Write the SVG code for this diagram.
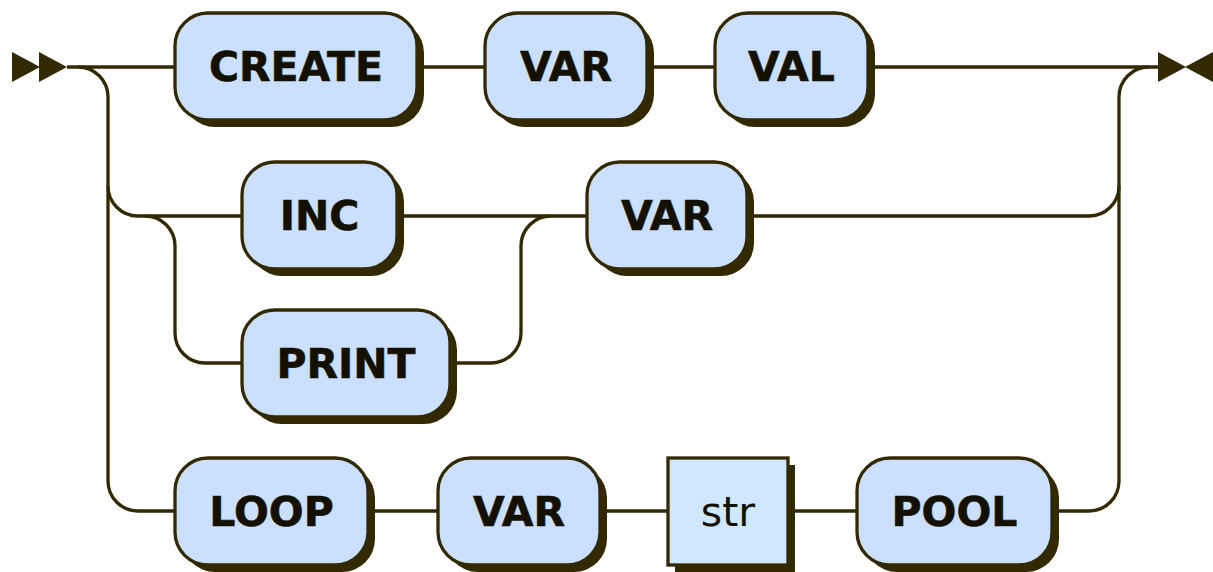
<svg xmlns="http://www.w3.org/2000/svg" width="1213" height="572" viewBox="0 0 1213 572">
  <style>
    .line { fill: none; stroke: #332900; stroke-width: 3.3; }
    .shadow { fill: #332900; }
    .term { fill: #CBE0FF; stroke: #332900; stroke-width: 3.3; }
    .nonterm { fill: #D0E8FF; stroke: #332900; stroke-width: 3.3; }
    .arrow { fill: #332900; }
    text { font-family: "DejaVu Sans", Verdana, sans-serif; font-size: 41px; fill: #141000; text-anchor: middle; }
    text.t { font-weight: bold; stroke: #141000; stroke-width: 0.6; }
  </style>

  <!-- connectors -->
  <g id="connectors">
    <polygon class="arrow" points="12,52 12,82 40,67"/>
    <polygon class="arrow" points="39,52 39,82 67,67"/>
    <polygon class="arrow" points="1158,52 1158,82 1186,67"/>
    <polygon class="arrow" points="1213,52 1213,82 1185,67"/>

    <path class="line" d="M67 67 H175"/>
    <path class="line" d="M417 67 H485"/>
    <path class="line" d="M647 67 H715"/>
    <path class="line" d="M868 67 H1158"/>

    <path class="line" d="M78 67 A30 30 0 0 1 108 97 V481 A30 30 0 0 0 138 511 H175"/>
    <path class="line" d="M108 186 A30 30 0 0 0 138 216 H242"/>
    <path class="line" d="M145 216 A30 30 0 0 1 175 246 V333 A30 30 0 0 0 205 363 H242"/>
    <path class="line" d="M397 216 H587"/>
    <path class="line" d="M450 363 H491 A30 30 0 0 0 521 333 V246 A30 30 0 0 1 551 216"/>
    <path class="line" d="M747 216 H1089 A30 30 0 0 0 1119 186"/>
    <path class="line" d="M1119 481 V97 A30 30 0 0 1 1149 67"/>

    <path class="line" d="M368 511 H438"/>
    <path class="line" d="M600 511 H668"/>
    <path class="line" d="M788 511 H857"/>
    <path class="line" d="M1052 511 H1089 A30 30 0 0 0 1119 481"/>
  </g>

  <!-- row 1 -->
  <g id="create">
    <rect class="shadow" x="182" y="20" width="242" height="107" rx="33"/>
    <rect class="term" x="175" y="13" width="242" height="107" rx="33"/>
    <text class="t" x="296" y="81">CREATE</text>
  </g>
  <g id="var1">
    <rect class="shadow" x="492" y="20" width="162" height="107" rx="33"/>
    <rect class="term" x="485" y="13" width="162" height="107" rx="33"/>
    <text class="t" x="566" y="81">VAR</text>
  </g>
  <g id="val">
    <rect class="shadow" x="722" y="20" width="153" height="107" rx="33"/>
    <rect class="term" x="715" y="13" width="153" height="107" rx="33"/>
    <text class="t" x="791.5" y="81">VAL</text>
  </g>

  <!-- row 2 -->
  <g id="inc">
    <rect class="shadow" x="249" y="169" width="155" height="107" rx="33"/>
    <rect class="term" x="242" y="162" width="155" height="107" rx="33"/>
    <text class="t" x="319.5" y="230">INC</text>
  </g>
  <g id="var2">
    <rect class="shadow" x="594" y="169" width="160" height="107" rx="33"/>
    <rect class="term" x="587" y="162" width="160" height="107" rx="33"/>
    <text class="t" x="667" y="230">VAR</text>
  </g>

  <!-- row 3 -->
  <g id="print">
    <rect class="shadow" x="249" y="317" width="208" height="107" rx="33"/>
    <rect class="term" x="242" y="310" width="208" height="107" rx="33"/>
    <text class="t" x="346" y="378">PRINT</text>
  </g>

  <!-- row 4 -->
  <g id="loop">
    <rect class="shadow" x="182" y="465" width="193" height="107" rx="33"/>
    <rect class="term" x="175" y="458" width="193" height="107" rx="33"/>
    <text class="t" x="271.5" y="526">LOOP</text>
  </g>
  <g id="var3">
    <rect class="shadow" x="445" y="465" width="162" height="107" rx="33"/>
    <rect class="term" x="438" y="458" width="162" height="107" rx="33"/>
    <text class="t" x="519" y="526">VAR</text>
  </g>
  <g id="str">
    <rect class="shadow" x="675" y="465" width="120" height="107"/>
    <rect class="nonterm" x="668" y="458" width="120" height="107"/>
    <text x="728" y="526">str</text>
  </g>
  <g id="pool">
    <rect class="shadow" x="864" y="465" width="195" height="107" rx="33"/>
    <rect class="term" x="857" y="458" width="195" height="107" rx="33"/>
    <text class="t" x="954.5" y="526">POOL</text>
  </g>
</svg>
